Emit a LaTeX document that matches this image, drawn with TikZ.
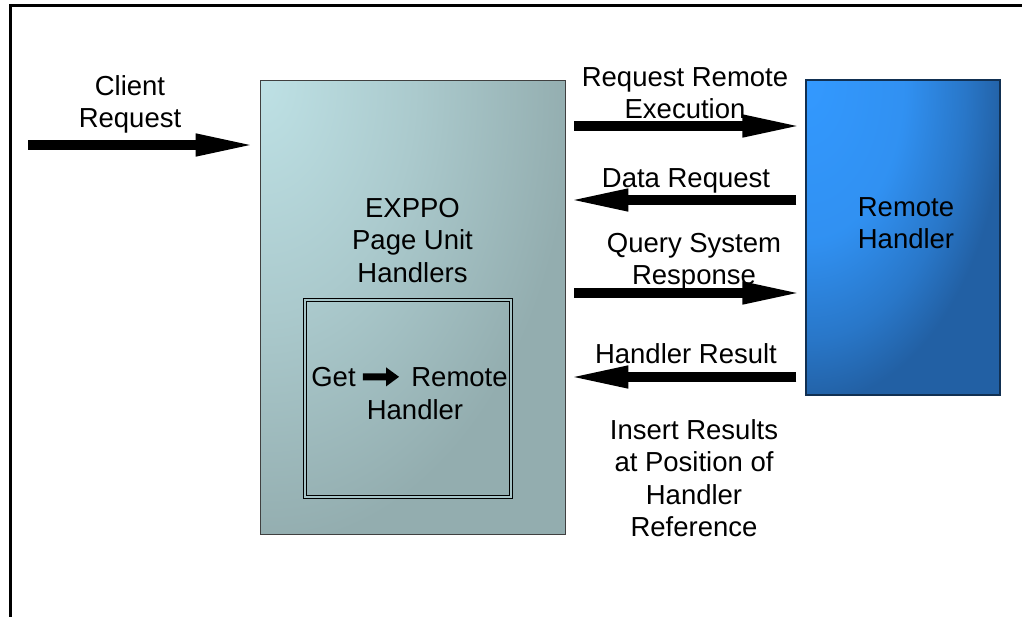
\documentclass[tikz,border=0pt]{standalone}
\usepackage{fontspec}
\setmainfont{Liberation Sans}
\usetikzlibrary{arrows.meta,positioning}

\definecolor{pulight}{HTML}{BEE1E5}
\definecolor{pudark}{HTML}{93ADAF}
\definecolor{rhlight}{HTML}{3399FF}
\definecolor{rhdark}{HTML}{2260A4}

% light corner at the top left, darker towards right and bottom
\pgfdeclareradialshading{unitshade}{\pgfpoint{-25bp}{25bp}}{%
  color(0bp)=(pulight); color(25bp)=(pulight!55!pudark);
  color(50bp)=(pudark); color(1000bp)=(pudark)}
\pgfdeclareradialshading{remoteshade}{\pgfpoint{-25bp}{25bp}}{%
  color(0bp)=(rhlight); color(25bp)=(rhlight!85!rhdark); color(40bp)=(rhlight!40!rhdark);
  color(50bp)=(rhdark); color(1000bp)=(rhdark)}

\tikzset{
  txt/.style={font=\fontsize{27.5}{32.5}\selectfont, align=center, inner sep=0pt, anchor=north},
  pageunit/.style={draw=black!75, line width=0.8pt, shading=unitshade},
  remotehandler/.style={draw=rhdark!50!black, line width=1.2pt, shading=remoteshade},
  getbox/.style={draw=black, line width=0.8pt, double=pulight!45!pudark, double distance=2.2pt},
  fatarrow/.style={line width=10pt, -{Triangle[length=62pt,width=20pt]}},
  smallarrow/.style={line width=7pt, -{Triangle[length=13pt,width=18pt]}},
}

\begin{document}
\begin{tikzpicture}[x=1pt,y=-1pt]
\useasboundingbox (0,0) rectangle (1022,616);
\clip (0,0) rectangle (1022,616);
\draw[line width=3pt] (10,700) |- (1100,5);

% boxes
\node[pageunit, minimum width=305pt, minimum height=454pt](units) at (412.5,307) {};
\node[remotehandler, minimum width=194pt, minimum height=315pt](remote) at (903,237.5) {};
\node[getbox, minimum width=206pt, minimum height=197pt](getrem) at (408,398.5) {};

% labels
\node[txt](client) at (130,75) {Client\\Request};
\node[txt](unitlabel) at (412.5,198) {EXPPO\\Page Unit\\Handlers};
\node[txt](get) at (333.5,367) {Get};
\node[txt](remword) at (459.5,367) {Remote};
\node[txt](handler) at (415,399) {Handler};
\node[txt](reqexec) at (685,67) {Request Remote\\Execution};
\node[txt](datareq) at (686,168) {Data Request};
\node[txt](query) at (694,233) {Query System\\Response};
\node[txt](hresult) at (686,343) {Handler Result};
\node[txt](rhlabel) at (906,197) {Remote\\Handler};
\node[txt](insert) at (694,419) {Insert Results\\at Position of\\Handler\\Reference};

% arrows
\coordinate (clientin) at (28,145);
\draw[fatarrow, shorten >=2pt] (clientin) -- (units.west |- clientin);
\draw[fatarrow, shorten <=9pt, shorten >=1pt] (units.east |- 0,126) -- (remote.west |- 0,126);
\draw[fatarrow, shorten <=9pt, shorten >=1pt] (remote.west |- 0,200) -- (units.east |- 0,200);
\draw[fatarrow, shorten <=9pt, shorten >=1pt] (units.east |- 0,293) -- (remote.west |- 0,293);
\draw[fatarrow, shorten <=9pt, shorten >=1pt] (remote.west |- 0,377) -- (units.east |- 0,377);
\draw[smallarrow, shorten <=7pt, shorten >=12pt] (get.east) -- (remword.west);
\end{tikzpicture}
\end{document}
